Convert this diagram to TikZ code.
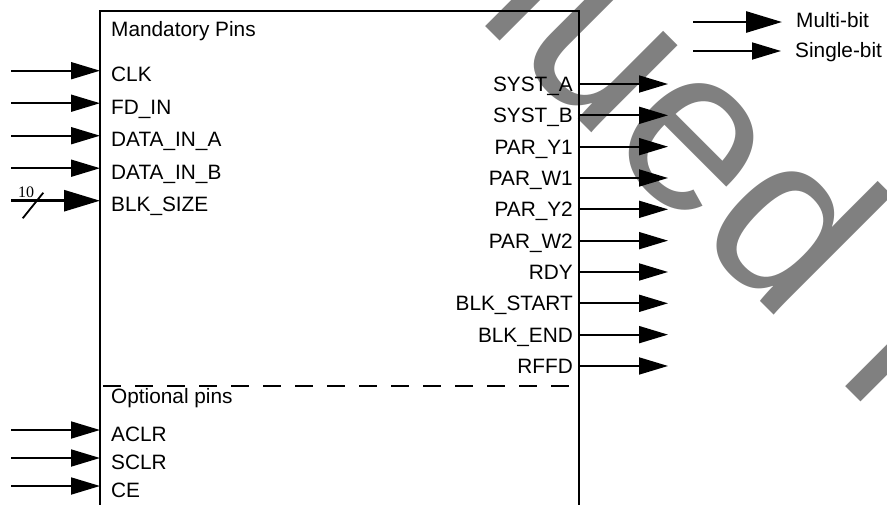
\documentclass[tikz,border=0pt]{standalone}
\usepackage{fontspec}
\setmainfont{Liberation Sans}
\newfontfamily\numfont{Liberation Serif}
\usetikzlibrary{arrows.meta}

\newcommand\pinfont{\fontsize{20.8}{25}\selectfont}

\begin{document}
\begin{tikzpicture}[x=1pt,y=-1pt,
	sbit/.style={line width=1.8pt,-{Triangle[length=29pt,width=17pt]}},
	mbit/.style={line width=2.8pt,-{Triangle[length=36pt,width=21pt]}},
	pinlabel/.style={font=\pinfont,inner sep=0pt},
	stamp/.style={font=\fontsize{232}{240}\selectfont,text=gray,inner sep=0pt}]
			\useasboundingbox (0,0) rectangle (887,504);
			\clip (0,0) rectangle (887,504);
			% watermark
			\node[stamp,rotate=-45,anchor=base west] (wm) at (-163.6,-622.6) {Discontinued IP};
			% core block, runs off the bottom
			\node[draw,line width=2pt,anchor=north west,minimum width=478.5pt,minimum height=530pt,inner sep=0pt,outer sep=0pt] (core) at (100,11) {};
			\coordinate (split) at (100,386);
			\draw[line width=2pt,dash pattern=on 18pt off 14pt,dash phase=-3pt] (split) -- (split -| core.east);
			\node[pinlabel,anchor=base west] (mand) at (111,36) {Mandatory Pins};
			\node[pinlabel,anchor=base west] (opt) at (111,403) {Optional pins};
			% inputs
			\foreach \lbl/\ypos [count=\i] in {CLK/70.7,FD\_IN/103.2,DATA\_IN\_A/135.7,DATA\_IN\_B/168.2}{
				\coordinate (in\i) at (11,\ypos);
				\node[pinlabel,anchor=base west] (ilab\i) at (111,{\ypos+11}) {\lbl};
				\draw[sbit] (in\i) -- (in\i -| core.west);
			}
			\coordinate (blkin) at (11,200.7);
			\node[pinlabel,anchor=base west] (blksize) at (111,211.7) {BLK\_SIZE};
			\draw[mbit] (blkin) -- (blkin -| core.west);
			\draw[line width=1.8pt] (22.7,218.3) -- (43.3,192.7);
			\node[font=\numfont\fontsize{16}{16}\selectfont,anchor=base west,inner sep=0pt] (width) at (18,197) {10};
			\foreach \lbl/\ypos [count=\i] in {ACLR/430,SCLR/458,CE/486}{
				\coordinate (opin\i) at (11,\ypos);
				\node[pinlabel,anchor=base west] (olab\i) at (111,{\ypos+11}) {\lbl};
				\draw[sbit] (opin\i) -- (opin\i -| core.west);
			}
			% outputs
			\foreach \lbl [count=\i from 0] in {SYST\_A,SYST\_B,PAR\_Y1,PAR\_W1,PAR\_Y2,PAR\_W2,RDY,BLK\_START,BLK\_END,RFFD}{
				\coordinate (out\i) at (668,{84+31.33*\i});
				\node[pinlabel,anchor=base east] (qlab\i) at (573,{91.5+31.33*\i}) {\lbl};
				\draw[sbit] (out\i -| core.east) -- (out\i);
			}
			% legend
			\coordinate (mb-a) at (693,22);
			\coordinate (mb-b) at (782,22);
			\draw[mbit] (mb-a) -- (mb-b);
			\node[pinlabel,anchor=base west] (multi) at (796,27) {Multi-bit};
			\coordinate (sb-a) at (693,51);
			\coordinate (sb-b) at (781,51);
			\draw[sbit] (sb-a) -- (sb-b);
			\node[pinlabel,anchor=base west] (single) at (795,57) {Single-bit};
\end{tikzpicture}
\end{document}
